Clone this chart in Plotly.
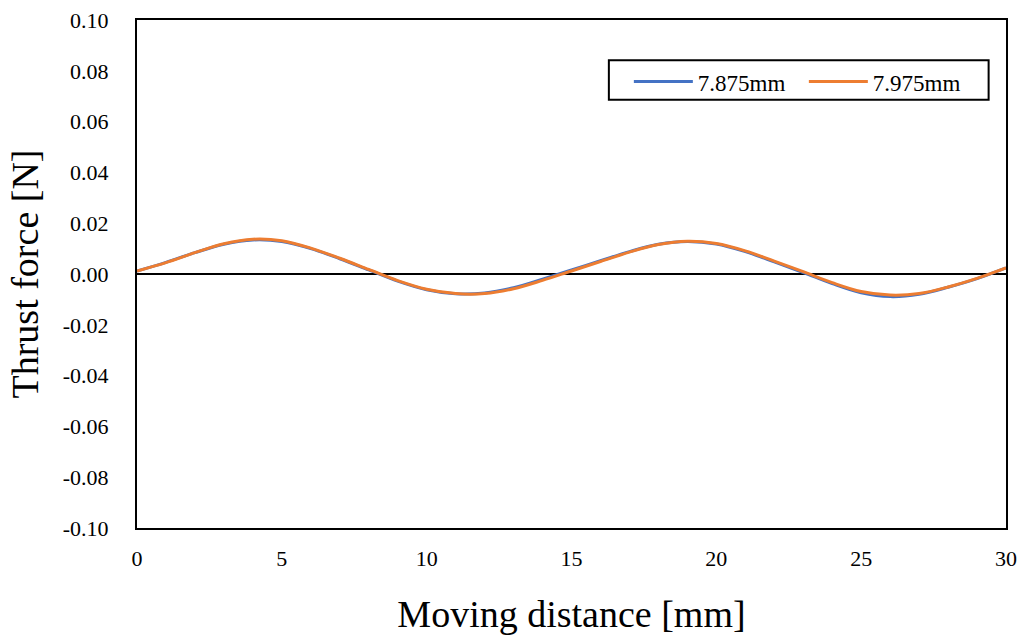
import plotly.graph_objects as go

# Moving distance [mm]
distance = list(range(0, 31))

# Thrust force [N] for each gap
force_7875 = [0.0012, 0.0046, 0.0084, 0.0117, 0.0134, 0.0128, 0.0100, 0.0060,
              0.0016, -0.0028, -0.0062, -0.0078, -0.0075, -0.0054, -0.0020, 0.0016,
              0.0052, 0.0088, 0.0117, 0.0128, 0.0118, 0.0088, 0.0048, 0.0006,
              -0.0038, -0.0074, -0.0089, -0.0080, -0.0052, -0.0018, 0.0024]
force_7975 = [0.0012, 0.0045, 0.0084, 0.0119, 0.0137, 0.0131, 0.0102, 0.0062,
              0.0018, -0.0026, -0.0060, -0.0077, -0.0077, -0.0058, -0.0025, 0.0012,
              0.0049, 0.0086, 0.0116, 0.0129, 0.0120, 0.0091, 0.0051, 0.0009,
              -0.0034, -0.0069, -0.0083, -0.0077, -0.0051, -0.0017, 0.0024]

series_names = ["7.875mm", "7.975mm"]
series_colors = ["#4472C4", "#ED7D31"]

y_ticks = [-0.10, -0.08, -0.06, -0.04, -0.02, 0.00, 0.02, 0.04, 0.06, 0.08, 0.10]
y_tick_text = ["-0.10", "-0.08", "-0.06", "-0.04", "-0.02", "0.00",
               "0.02", "0.04", "0.06", "0.08", "0.10"]
x_ticks = [0, 5, 10, 15, 20, 25, 30]

FONT = "Times New Roman, Liberation Serif, serif"

fig = go.Figure()
for ys, name, color in zip([force_7875, force_7975], series_names, series_colors):
    fig.add_trace(go.Scatter(
        x=distance, y=ys, mode="lines", name=name,
        line=dict(color=color, width=3, shape="spline", smoothing=1.0),
    ))

# Framed legend box drawn behind the (borderless) legend entries
fig.add_shape(
    type="rect", xref="paper", yref="paper",
    x0=0.543, x1=0.980, y0=0.843, y1=0.921,
    line=dict(color="black", width=2), fillcolor="white", layer="below",
)

fig.update_layout(
    width=1026, height=635,
    margin=dict(l=137, r=20, t=20, b=107, autoexpand=False),
    paper_bgcolor="white", plot_bgcolor="white",
    font=dict(family=FONT, color="black", size=22),
    showlegend=True,
    legend=dict(
        orientation="h",
        x=0.566, y=0.921, xanchor="left", yanchor="top",
        borderwidth=0,
        bgcolor="rgba(0,0,0,0)",
        font=dict(family=FONT, size=23, color="black"),
        itemwidth=59,
        entrywidth=101,
        tracegroupgap=0,
    ),
    xaxis=dict(
        range=[0, 30], tickmode="array", tickvals=x_ticks,
        showgrid=False, zeroline=False, automargin=False,
        showline=True, linecolor="black", linewidth=2, mirror=True,
        ticks="", ticklen=0, ticklabelstandoff=10,
        title=dict(text="Moving distance [mm]", font=dict(family=FONT, size=38), standoff=30),
        tickfont=dict(family=FONT, size=22),
    ),
    yaxis=dict(
        range=[-0.10, 0.10], tickmode="array", tickvals=y_ticks, ticktext=y_tick_text,
        showgrid=False, zeroline=True, zerolinecolor="black", zerolinewidth=2,
        showline=True, linecolor="black", linewidth=2, mirror=True, automargin=False,
        ticks="", ticklen=0, ticklabelstandoff=22,
        title=dict(text="Thrust force [N]", font=dict(family=FONT, size=38), standoff=12),
        tickfont=dict(family=FONT, size=22),
    ),
)

fig.write_html("out.html")
